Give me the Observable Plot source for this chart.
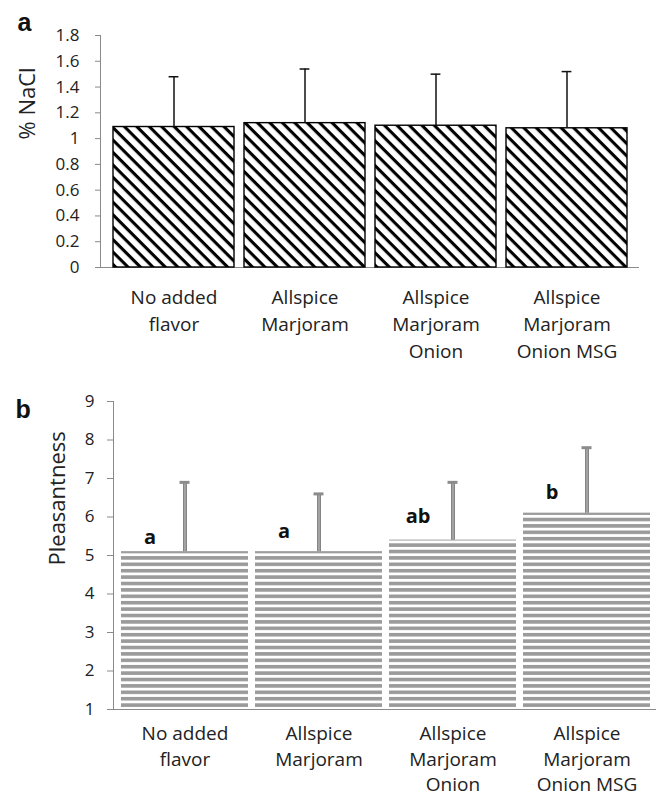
<!DOCTYPE html>
<html><head><meta charset="utf-8">
<script src="https://cdn.jsdelivr.net/npm/d3@7"></script>
<script src="https://cdn.jsdelivr.net/npm/@observablehq/plot@0.6"></script>
<style>
body{margin:0;background:#fff;}
#wrap{position:relative;width:656px;height:799px;overflow:hidden;}
#wrap svg{position:absolute;left:0;overflow:visible;}
</style></head><body><div id="wrap"></div>
<script>
const categories = ["No added\nflavor", "Allspice\nMarjoram", "Allspice\nMarjoram\nOnion", "Allspice\nMarjoram\nOnion MSG"];
const naclMean = [1.09, 1.12, 1.10, 1.08];
const naclUpper = [1.48, 1.54, 1.50, 1.52];
const naclTicks = [0, 0.2, 0.4, 0.6, 0.8, 1, 1.2, 1.4, 1.6, 1.8];
const pleasMean = [5.1, 5.1, 5.4, 6.1];
const pleasUpper = [6.9, 6.6, 6.9, 7.8];
const pleasTicks = [1, 2, 3, 4, 5, 6, 7, 8, 9];
const letters = ["a", "a", "ab", "b"];
const letterY = [5.31, 5.46, 5.85, 6.47];

const dataA = categories.map((c, i) => ({cat: c, mean: naclMean[i], upper: naclUpper[i]}));
const dataB = categories.map((c, i) => ({cat: c, mean: pleasMean[i], upper: pleasUpper[i], letter: letters[i], ly: letterY[i]}));

const FONT = "'Open Sans', sans-serif";
const AXIS = "#8a8a8a";
const TEXT = "#222";
const fmt = d => String(d);

const plotA = Plot.plot({
  width: 656, height: 370,
  marginTop: 35, marginBottom: 103, marginLeft: 100, marginRight: 17,
  style: {fontFamily: FONT, color: TEXT, background: "#fff"},
  x: {domain: categories, paddingInner: 0.08, paddingOuter: 0.091, label: null},
  y: {domain: [0, 1.8], label: null},
  marks: [
    Plot.frame({anchor: "left", stroke: AXIS}),
    Plot.ruleY([0], {stroke: AXIS, strokeWidth: 1.2}),
    Plot.axisY({ticks: naclTicks, tickFormat: fmt, tickSize: 5, tickPadding: 16, fontSize: 17, stroke: AXIS, fill: TEXT, label: null}),
    Plot.axisX({tickSize: 0, tickPadding: 18, fontSize: 19, lineHeight: 1.4, fill: TEXT, label: null}),
    Plot.barY(dataA, {x: "cat", y: "mean", fill: "url(#diagA)", stroke: "#000", strokeWidth: 1.4}),
    Plot.ruleX(dataA, {x: "cat", y1: "mean", y2: "upper", stroke: "#111", strokeWidth: 1.5}),
    Plot.tickY(dataA, {x: "cat", y: "upper", stroke: "#111", strokeWidth: 1.5, insetLeft: 55.6, insetRight: 55.6}),
    Plot.text(["% NaCl"], {frameAnchor: "left", dx: -73, dy: -12, rotate: -90, fontSize: 22, fill: TEXT}),
    Plot.text(["a"], {frameAnchor: "top-left", dx: -83, dy: -5, textAnchor: "start", lineAnchor: "bottom", fontSize: 25, fontWeight: "bold", fontFamily: "'Liberation Sans', Arial, sans-serif", fill: "#111"})
  ]
});
d3.select(plotA).insert("defs", ":first-child").html(
  `<pattern id="diagA" patternUnits="userSpaceOnUse" width="8.8" height="8.8" patternTransform="rotate(45)">
     <rect width="8.8" height="8.8" fill="#fff"/><rect width="8.8" height="3.1" fill="#000"/>
   </pattern>`);
plotA.style.top = "0px";

const plotB = Plot.plot({
  width: 656, height: 429,
  marginTop: 31, marginBottom: 90, marginLeft: 113, marginRight: 0,
  style: {fontFamily: FONT, color: TEXT, background: "#fff"},
  x: {domain: categories, paddingInner: 0.052, paddingOuter: 0.052, align: 0.57, label: null},
  y: {domain: [1, 9], label: null},
  marks: [
    Plot.frame({anchor: "left", stroke: AXIS}),
    Plot.ruleY([1], {stroke: AXIS, strokeWidth: 1.2}),
    Plot.axisY({ticks: pleasTicks, tickFormat: fmt, tickSize: 6, tickPadding: 13, fontSize: 17, stroke: AXIS, fill: TEXT, label: null}),
    Plot.axisX({tickSize: 0, tickPadding: 13, fontSize: 19, lineHeight: 1.33, fill: TEXT, label: null}),
    Plot.barY(dataB, {x: "cat", y1: pleasTicks[0], y2: "mean", fill: "url(#hstripeB)"}),
    Plot.ruleX(dataB, {x: "cat", y1: "mean", y2: "upper", stroke: "#333", strokeWidth: 3.2}),
    Plot.ruleX(dataB, {x: "cat", y1: "mean", y2: "upper", stroke: "#fff", strokeWidth: 1.1}),
    Plot.tickY(dataB, {x: "cat", y: "upper", stroke: "#8c8c8c", strokeWidth: 3, insetLeft: 58.5, insetRight: 58.5}),
    Plot.text(dataB, {x: "cat", y: "ly", text: "letter", dx: -35, lineAnchor: "bottom", fontSize: 20, fontWeight: "bold", fill: "#111"}),
    Plot.text(["Pleasantness"], {frameAnchor: "left", dx: -56, dy: 10, rotate: -90, fontSize: 22, fill: TEXT}),
    Plot.text(["b"], {frameAnchor: "top-left", dx: -98, dy: 16, textAnchor: "start", lineAnchor: "bottom", fontSize: 25, fontWeight: "bold", fontFamily: "'Liberation Sans', Arial, sans-serif", fill: "#111"})
  ]
});
d3.select(plotB).insert("defs", ":first-child").html(
  `<pattern id="hstripeB" patternUnits="userSpaceOnUse" width="10" height="6.4" y="0.5">
     <rect width="10" height="6.4" fill="#fff"/><rect width="10" height="3.6" fill="#9b9b9b"/>
   </pattern>`);
plotB.style.top = "370px";

const wrap = document.getElementById("wrap");
wrap.appendChild(plotA);
wrap.appendChild(plotB);
</script></body></html>
